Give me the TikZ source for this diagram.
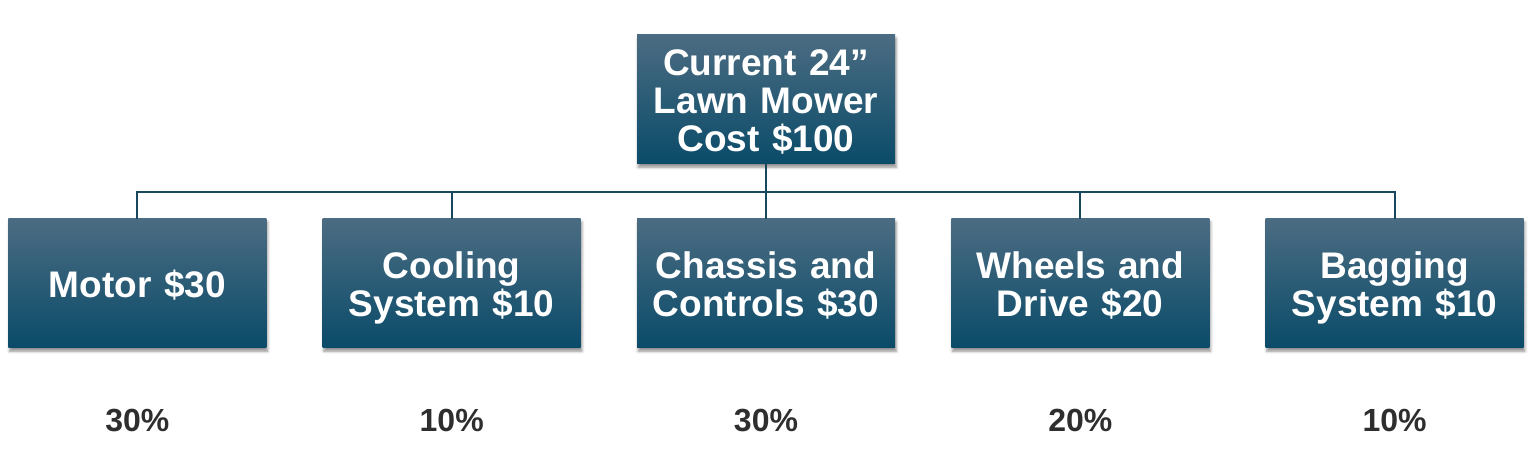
\documentclass[tikz,border=0pt]{standalone}
\usepackage{fontspec}
\setmainfont{Liberation Sans}
\usetikzlibrary{positioning,shadows.blur}
\definecolor{boxtop}{HTML}{4B6C82}
\definecolor{boxmid}{HTML}{135973}
\definecolor{boxbot}{HTML}{0A4B69}
\definecolor{linkcol}{HTML}{17485E}
\definecolor{pctcol}{HTML}{2E2E2E}
\tikzset{
  costbox/.style={rectangle, minimum width=129pt, minimum height=64.5pt,
    inner sep=0pt, text width=127pt, align=center, text=white,
    top color=boxtop, middle color=boxmid, bottom color=boxbot,
    blur shadow={shadow xshift=0.6pt, shadow yshift=-1.6pt,
      shadow blur radius=1.4pt, shadow opacity=45},
    execute at begin node={\rule{0pt}{18pt}},
    execute at end node={\vphantom{y}},
    font=\bfseries\fontsize{18.5}{19.1}\selectfont},
  link/.style={draw=linkcol, line width=1pt},
  pct/.style={inner sep=0pt, text=pctcol, font=\bfseries\fontsize{16}{19}\selectfont}
}
\begin{document}
\begin{tikzpicture}[x=0.5pt, y=-0.5pt]
    \useasboundingbox (0,0) rectangle (1533,459);
    \node[costbox] (total) at (766,99.5) {Current 24”\\Lawn Mower\\Cost \$100};
    \node[costbox] (chassis) at (766,283.5) {Chassis and\\Controls \$30};
    \node[costbox, left=27.75pt of chassis] (cooling) {Cooling\\System \$10};
    \node[costbox, left=27.75pt of cooling] (motor) {Motor \$30};
    \node[costbox, right=27.75pt of chassis] (wheels) {Wheels and\\Drive \$20};
    \node[costbox, right=27.75pt of wheels] (bagging) {Bagging\\System \$10};
    \coordinate (bus) at ([yshift=-13.75pt]total.south);
    \foreach \part/\share in {motor/30, cooling/10, chassis/30, wheels/20, bagging/10} {
        \draw[link] (total.south) -- (bus) -| (\part.north);
        \node[pct] (p\part) at ([yshift=-36pt]\part.south) {\share\%};
    }
\end{tikzpicture}
\end{document}
